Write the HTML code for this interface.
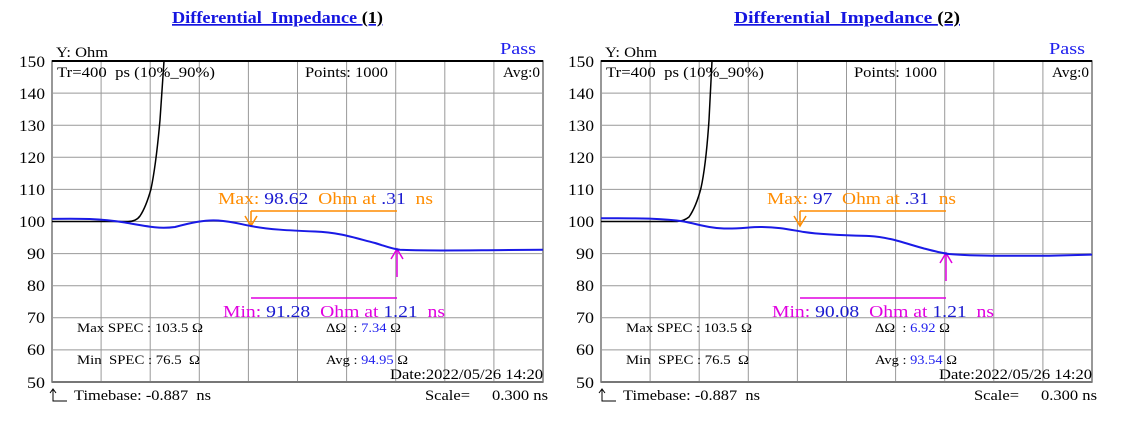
<!DOCTYPE html>
<html><head><meta charset="utf-8"><style>
html,body{margin:0;padding:0;background:#fff;width:1126px;height:425px;overflow:hidden}
svg{display:block;font-family:"Liberation Serif",serif}
text{white-space:pre}
</style></head><body>
<svg width="1126" height="425" viewBox="0 0 1126 425" xmlns="http://www.w3.org/2000/svg" xml:space="preserve">
<defs>
<g id="grid">
  <rect x="52" y="61" width="491" height="321" fill="#fff" stroke="#777" stroke-width="1.5"/>
  <g stroke="#999" stroke-width="1">
    <line x1="101.1" y1="61" x2="101.1" y2="382"/><line x1="150.2" y1="61" x2="150.2" y2="382"/>
    <line x1="199.3" y1="61" x2="199.3" y2="382"/><line x1="248.4" y1="61" x2="248.4" y2="382"/>
    <line x1="297.5" y1="61" x2="297.5" y2="382"/><line x1="346.6" y1="61" x2="346.6" y2="382"/>
    <line x1="395.7" y1="61" x2="395.7" y2="382"/><line x1="444.8" y1="61" x2="444.8" y2="382"/>
    <line x1="493.9" y1="61" x2="493.9" y2="382"/>
    <line x1="52" y1="93.1" x2="543" y2="93.1"/><line x1="52" y1="125.2" x2="543" y2="125.2"/>
    <line x1="52" y1="157.3" x2="543" y2="157.3"/><line x1="52" y1="189.4" x2="543" y2="189.4"/>
    <line x1="52" y1="221.5" x2="543" y2="221.5"/><line x1="52" y1="253.6" x2="543" y2="253.6"/>
    <line x1="52" y1="285.7" x2="543" y2="285.7"/><line x1="52" y1="317.8" x2="543" y2="317.8"/>
    <line x1="52" y1="349.9" x2="543" y2="349.9"/>
  </g>
  <line x1="52" y1="61" x2="543" y2="61" stroke="#000" stroke-width="2"/>
  <line x1="52" y1="382" x2="543" y2="382" stroke="#777" stroke-width="2"/>
  <g font-size="16" text-anchor="end" fill="#000">
    <text x="45" y="67" textLength="26" lengthAdjust="spacingAndGlyphs">150</text><text x="45" y="99" textLength="26" lengthAdjust="spacingAndGlyphs">140</text><text x="45" y="131" textLength="26" lengthAdjust="spacingAndGlyphs">130</text>
    <text x="45" y="163" textLength="26" lengthAdjust="spacingAndGlyphs">120</text><text x="45" y="195" textLength="26" lengthAdjust="spacingAndGlyphs">110</text><text x="45" y="227" textLength="26" lengthAdjust="spacingAndGlyphs">100</text>
    <text x="45" y="259" textLength="18" lengthAdjust="spacingAndGlyphs">90</text><text x="45" y="291" textLength="18" lengthAdjust="spacingAndGlyphs">80</text><text x="45" y="323" textLength="18" lengthAdjust="spacingAndGlyphs">70</text>
    <text x="45" y="355" textLength="18" lengthAdjust="spacingAndGlyphs">60</text><text x="45" y="388" textLength="18" lengthAdjust="spacingAndGlyphs">50</text>
  </g>
  <text x="56" y="57" font-size="15" textLength="52" lengthAdjust="spacingAndGlyphs">Y: Ohm</text>
  <text x="500" y="54" font-size="17" fill="#2020ee" textLength="36" lengthAdjust="spacingAndGlyphs">Pass</text>
  <text x="57" y="77" font-size="15" textLength="158" lengthAdjust="spacingAndGlyphs">Tr=400  ps (10%_90%)</text>
  <text x="305" y="77" font-size="15" textLength="83" lengthAdjust="spacingAndGlyphs">Points: 1000</text>
  <text x="503" y="77" font-size="15" textLength="37" lengthAdjust="spacingAndGlyphs">Avg:0</text>
  <text x="77" y="332" font-size="13" textLength="126" lengthAdjust="spacingAndGlyphs">Max SPEC : 103.5 Ω</text>
  <text x="77" y="364" font-size="13" textLength="123" lengthAdjust="spacingAndGlyphs">Min  SPEC : 76.5  Ω</text>
  <text x="390" y="379" font-size="15" textLength="153" lengthAdjust="spacingAndGlyphs">Date:2022/05/26 14:20</text>
  <text x="74" y="400" font-size="15" textLength="137" lengthAdjust="spacingAndGlyphs">Timebase: -0.887  ns</text>
  <path d="M53 390 V401 H67" stroke="#000" fill="none" stroke-width="1"/>
  <path d="M50 393 L53 389 L56 393" stroke="#000" fill="none" stroke-width="1"/>
  <text x="425" y="400" font-size="15" textLength="45" lengthAdjust="spacingAndGlyphs">Scale=</text>
  <text x="492" y="400" font-size="15" textLength="56" lengthAdjust="spacingAndGlyphs">0.300 ns</text>
  <line x1="251" y1="211" x2="397" y2="211" stroke="#ff8c00" stroke-width="1.5"/>
  <line x1="251" y1="211" x2="251" y2="226" stroke="#ff8c00" stroke-width="1.5"/>
  <path d="M245 216 L251 226 L257 216" stroke="#ff8c00" fill="none" stroke-width="1.5"/>
  <line x1="251" y1="298" x2="397" y2="298" stroke="#e000e0" stroke-width="1.5"/>
</defs>

<text x="172" y="23" font-size="17" font-weight="bold" fill="#1515e0" text-decoration="underline" textLength="211" lengthAdjust="spacingAndGlyphs">Differential_Impedance <tspan fill="#000">(1)</tspan></text>
<use href="#grid"/>
<text x="218" y="204" font-size="17" fill="#ff8c00" textLength="215" lengthAdjust="spacingAndGlyphs">Max: <tspan fill="#1a1ad0">98.62</tspan>  Ohm at <tspan fill="#1a1ad0">.31</tspan>  ns</text>
<text x="223" y="317" font-size="17" fill="#e000e0" textLength="222" lengthAdjust="spacingAndGlyphs">Min: <tspan fill="#1a1ad0">91.28</tspan>  Ohm at <tspan fill="#1a1ad0">1.21</tspan>  ns</text>
<line x1="397" y1="249" x2="397" y2="277" stroke="#e000e0" stroke-width="1.5"/>
<path d="M391 259 L397 249 L403 259" stroke="#e000e0" fill="none" stroke-width="1.5"/>
<text x="326" y="332" font-size="13" textLength="75" lengthAdjust="spacingAndGlyphs">ΔΩ  : <tspan fill="#2020ee">7.34</tspan> Ω</text>
<text x="326" y="364" font-size="13" textLength="82" lengthAdjust="spacingAndGlyphs">Avg : <tspan fill="#2020ee">94.95</tspan> Ω</text>
<path d="M52 221.5 L128 221.5 Q136 221.5 140 216 Q146 207 151 189 Q156 165 160 120 L164 61" stroke="#000" fill="none" stroke-width="1.5"/>
<path d="M52 218.9 C80 218.4 100 218.6 125 222.5 C150 227 160 229 175 227 C190 223 205 219.5 218 220.5 C232 221.5 240 224 251 226 C268 229.5 290 230.5 315 231.5 C340 232.5 355 238 375 243 C385 246 392 249 400 249.8 C420 251 460 250.4 500 250.1 L543 249.7" stroke="#1a1ae6" fill="none" stroke-width="2"/>

<text x="734" y="23" font-size="17" font-weight="bold" fill="#1515e0" text-decoration="underline" textLength="226" lengthAdjust="spacingAndGlyphs">Differential_Impedance <tspan fill="#000">(2)</tspan></text>
<g transform="translate(549,0)">
<use href="#grid"/>
<text x="218" y="204" font-size="17" fill="#ff8c00" textLength="189" lengthAdjust="spacingAndGlyphs">Max: <tspan fill="#1a1ad0">97</tspan>  Ohm at <tspan fill="#1a1ad0">.31</tspan>  ns</text>
<text x="223" y="317" font-size="17" fill="#e000e0" textLength="222" lengthAdjust="spacingAndGlyphs">Min: <tspan fill="#1a1ad0">90.08</tspan>  Ohm at <tspan fill="#1a1ad0">1.21</tspan>  ns</text>
<line x1="397" y1="253" x2="397" y2="281" stroke="#e000e0" stroke-width="1.5"/>
<path d="M391 263 L397 253 L403 263" stroke="#e000e0" fill="none" stroke-width="1.5"/>
<text x="326" y="332" font-size="13" textLength="75" lengthAdjust="spacingAndGlyphs">ΔΩ  : <tspan fill="#2020ee">6.92</tspan> Ω</text>
<text x="326" y="364" font-size="13" textLength="82" lengthAdjust="spacingAndGlyphs">Avg : <tspan fill="#2020ee">93.54</tspan> Ω</text>
<path d="M52 221.5 L128 221.5 Q135 221 140 217 Q147 207 152 188 Q157 165 160 120 L163 61" stroke="#000" fill="none" stroke-width="1.5"/>
<path d="M52 218.3 C90 218 115 218.5 135 221.5 C150 224.5 160 228 175 228.5 C190 229 200 227 211 227 C230 227 240 229.5 255 232 C275 235 300 235.5 320 236 C340 237 355 243 375 248.5 C385 251 392 253 400 254 C420 256 460 255.8 500 255.8 L543 254.6" stroke="#1a1ae6" fill="none" stroke-width="2"/>
</g>
</svg>
</body></html>
